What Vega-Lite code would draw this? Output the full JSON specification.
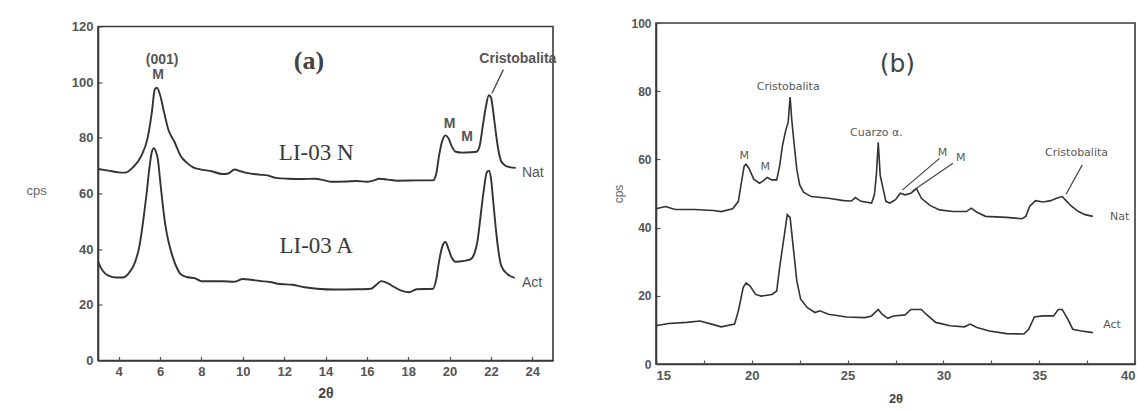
{
  "$schema": "https://vega.github.io/schema/vega-lite/v6.json",
  "autosize": {"type": "pad"},
  "padding": {"left": 25, "top": 16, "right": 0, "bottom": 0},
  "background": "white",
  "bounds": "flush",
  "spacing": 103,
  "center": true,
  "datasets": {
    "a_lines": [
      {"s":"Nat","x":3.0,"y":68.8},{"s":"Nat","x":3.5,"y":68.2},{"s":"Nat","x":4.0,"y":67.6},{"s":"Nat","x":4.3,"y":67.5},{"s":"Nat","x":4.7,"y":69.5},{"s":"Nat","x":5.1,"y":73.6},{"s":"Nat","x":5.4,"y":80},{"s":"Nat","x":5.6,"y":89},{"s":"Nat","x":5.75,"y":97.5},{"s":"Nat","x":5.85,"y":98},{"s":"Nat","x":6.0,"y":95.5},{"s":"Nat","x":6.2,"y":89},{"s":"Nat","x":6.4,"y":83},{"s":"Nat","x":6.7,"y":78.5},{"s":"Nat","x":7.0,"y":73.5},{"s":"Nat","x":7.3,"y":71},{"s":"Nat","x":7.6,"y":69.4},{"s":"Nat","x":8.0,"y":68.6},{"s":"Nat","x":8.5,"y":68},{"s":"Nat","x":9.0,"y":67},{"s":"Nat","x":9.3,"y":67.2},{"s":"Nat","x":9.6,"y":68.6},{"s":"Nat","x":9.9,"y":68},{"s":"Nat","x":10.2,"y":67.4},{"s":"Nat","x":10.8,"y":66.8},{"s":"Nat","x":11.2,"y":66.5},{"s":"Nat","x":11.6,"y":65.6},{"s":"Nat","x":12.2,"y":65.3},{"s":"Nat","x":12.8,"y":65.2},{"s":"Nat","x":13.5,"y":65.3},{"s":"Nat","x":13.9,"y":64.8},{"s":"Nat","x":14.3,"y":64.2},{"s":"Nat","x":15.0,"y":64.3},{"s":"Nat","x":15.5,"y":64.5},{"s":"Nat","x":16.0,"y":64.2},{"s":"Nat","x":16.3,"y":64.6},{"s":"Nat","x":16.6,"y":65.3},{"s":"Nat","x":17.0,"y":65.0},{"s":"Nat","x":17.5,"y":64.6},{"s":"Nat","x":18.5,"y":64.7},{"s":"Nat","x":19.2,"y":64.7},{"s":"Nat","x":19.35,"y":67},{"s":"Nat","x":19.5,"y":74},{"s":"Nat","x":19.65,"y":79},{"s":"Nat","x":19.8,"y":80.9},{"s":"Nat","x":19.95,"y":79.8},{"s":"Nat","x":20.1,"y":77},{"s":"Nat","x":20.3,"y":75},{"s":"Nat","x":20.6,"y":74.7},{"s":"Nat","x":21.0,"y":74.8},{"s":"Nat","x":21.3,"y":75},{"s":"Nat","x":21.45,"y":77},{"s":"Nat","x":21.6,"y":84},{"s":"Nat","x":21.75,"y":91},{"s":"Nat","x":21.9,"y":95.3},{"s":"Nat","x":22.0,"y":94.5},{"s":"Nat","x":22.1,"y":90},{"s":"Nat","x":22.2,"y":84},{"s":"Nat","x":22.35,"y":76},{"s":"Nat","x":22.5,"y":71.5},{"s":"Nat","x":22.7,"y":70},{"s":"Nat","x":22.9,"y":69.5},{"s":"Nat","x":23.2,"y":69.2},
      {"s":"Act","x":3.0,"y":35.5},{"s":"Act","x":3.2,"y":32.5},{"s":"Act","x":3.5,"y":30.5},{"s":"Act","x":3.9,"y":29.8},{"s":"Act","x":4.2,"y":29.8},{"s":"Act","x":4.5,"y":31.5},{"s":"Act","x":4.8,"y":35.5},{"s":"Act","x":5.0,"y":41},{"s":"Act","x":5.2,"y":51},{"s":"Act","x":5.35,"y":60},{"s":"Act","x":5.5,"y":70},{"s":"Act","x":5.6,"y":74.8},{"s":"Act","x":5.7,"y":76.3},{"s":"Act","x":5.8,"y":75},{"s":"Act","x":5.9,"y":72},{"s":"Act","x":6.0,"y":65},{"s":"Act","x":6.1,"y":58},{"s":"Act","x":6.25,"y":49},{"s":"Act","x":6.4,"y":43},{"s":"Act","x":6.6,"y":37.5},{"s":"Act","x":6.8,"y":33.5},{"s":"Act","x":7.0,"y":31},{"s":"Act","x":7.3,"y":30},{"s":"Act","x":7.7,"y":29.5},{"s":"Act","x":8.0,"y":28.5},{"s":"Act","x":9.0,"y":28.5},{"s":"Act","x":9.6,"y":28.3},{"s":"Act","x":10.0,"y":29.3},{"s":"Act","x":10.4,"y":29},{"s":"Act","x":10.8,"y":28.6},{"s":"Act","x":11.3,"y":28.2},{"s":"Act","x":11.8,"y":27.5},{"s":"Act","x":12.4,"y":27.2},{"s":"Act","x":13.0,"y":26.3},{"s":"Act","x":13.6,"y":25.8},{"s":"Act","x":14.4,"y":25.5},{"s":"Act","x":15.5,"y":25.6},{"s":"Act","x":16.2,"y":25.8},{"s":"Act","x":16.5,"y":27.5},{"s":"Act","x":16.7,"y":28.5},{"s":"Act","x":17.0,"y":27.8},{"s":"Act","x":17.3,"y":26.5},{"s":"Act","x":17.7,"y":25},{"s":"Act","x":18.05,"y":24.5},{"s":"Act","x":18.4,"y":25.6},{"s":"Act","x":19.2,"y":25.8},{"s":"Act","x":19.35,"y":29},{"s":"Act","x":19.5,"y":36},{"s":"Act","x":19.65,"y":41},{"s":"Act","x":19.8,"y":42.6},{"s":"Act","x":19.95,"y":40},{"s":"Act","x":20.1,"y":37},{"s":"Act","x":20.3,"y":35.5},{"s":"Act","x":20.7,"y":35.8},{"s":"Act","x":21.0,"y":36.3},{"s":"Act","x":21.2,"y":38.5},{"s":"Act","x":21.35,"y":43},{"s":"Act","x":21.5,"y":52},{"s":"Act","x":21.65,"y":61},{"s":"Act","x":21.8,"y":67.6},{"s":"Act","x":21.9,"y":68.2},{"s":"Act","x":22.0,"y":65.5},{"s":"Act","x":22.1,"y":58},{"s":"Act","x":22.2,"y":50},{"s":"Act","x":22.35,"y":40},{"s":"Act","x":22.5,"y":34},{"s":"Act","x":22.8,"y":31},{"s":"Act","x":23.15,"y":29.7}
    ],
    "a_ann": [
      {"x":6.1,"y":108,"t":"(001)"},{"x":5.9,"y":102.5,"t":"M"},{"x":20.0,"y":85,"t":"M"},{"x":20.85,"y":80.3,"t":"M"},{"x":23.3,"y":108.5,"t":"Cristobalita"}
    ],
    "a_end": [
      {"x":23.5,"y":67.5,"t":"Nat"},{"x":23.5,"y":28,"t":"Act"}
    ],
    "a_title": [{"x":13.2,"y":107.5,"t":"(a)"}],
    "a_samples": [{"x":13.55,"y":74.6,"t":"LI-03 N"},{"x":13.55,"y":41.2,"t":"LI-03 A"}],
    "a_rules": [{"x":22.6,"y":104.5,"x2":22.05,"y2":96}],
    "b_lines": [
      {"s":"Nat","x":15.0,"y":45.5},{"s":"Nat","x":15.5,"y":46.2},{"s":"Nat","x":16.0,"y":45.3},{"s":"Nat","x":17.0,"y":45.3},{"s":"Nat","x":18.0,"y":45},{"s":"Nat","x":18.4,"y":44.7},{"s":"Nat","x":19.0,"y":45.5},{"s":"Nat","x":19.3,"y":47.7},{"s":"Nat","x":19.45,"y":53},{"s":"Nat","x":19.6,"y":58},{"s":"Nat","x":19.7,"y":58.6},{"s":"Nat","x":19.85,"y":57.4},{"s":"Nat","x":20.1,"y":54.2},{"s":"Nat","x":20.4,"y":53},{"s":"Nat","x":20.6,"y":53.7},{"s":"Nat","x":20.8,"y":54.7},{"s":"Nat","x":21.05,"y":54},{"s":"Nat","x":21.3,"y":54},{"s":"Nat","x":21.45,"y":58},{"s":"Nat","x":21.6,"y":64},{"s":"Nat","x":21.75,"y":68},{"s":"Nat","x":21.9,"y":71},{"s":"Nat","x":22.0,"y":78.3},{"s":"Nat","x":22.08,"y":72},{"s":"Nat","x":22.2,"y":65},{"s":"Nat","x":22.35,"y":57},{"s":"Nat","x":22.5,"y":52.5},{"s":"Nat","x":22.7,"y":50.4},{"s":"Nat","x":23.1,"y":49.1},{"s":"Nat","x":24.0,"y":48.6},{"s":"Nat","x":24.8,"y":47.9},{"s":"Nat","x":25.2,"y":47.8},{"s":"Nat","x":25.4,"y":48.8},{"s":"Nat","x":25.7,"y":47.7},{"s":"Nat","x":26.25,"y":47.2},{"s":"Nat","x":26.4,"y":49.6},{"s":"Nat","x":26.5,"y":55.4},{"s":"Nat","x":26.6,"y":65},{"s":"Nat","x":26.7,"y":55.4},{"s":"Nat","x":26.85,"y":51.5},{"s":"Nat","x":27.0,"y":47.7},{"s":"Nat","x":27.2,"y":47.2},{"s":"Nat","x":27.5,"y":48.2},{"s":"Nat","x":27.75,"y":50.1},{"s":"Nat","x":28.0,"y":49.6},{"s":"Nat","x":28.3,"y":50.1},{"s":"Nat","x":28.6,"y":51.4},{"s":"Nat","x":28.85,"y":48.6},{"s":"Nat","x":29.3,"y":46.5},{"s":"Nat","x":29.8,"y":45.2},{"s":"Nat","x":30.5,"y":44.7},{"s":"Nat","x":31.2,"y":44.7},{"s":"Nat","x":31.45,"y":45.7},{"s":"Nat","x":31.75,"y":44.5},{"s":"Nat","x":32.2,"y":43.3},{"s":"Nat","x":33.3,"y":43},{"s":"Nat","x":34.1,"y":42.6},{"s":"Nat","x":34.3,"y":43.3},{"s":"Nat","x":34.5,"y":46.2},{"s":"Nat","x":34.8,"y":47.9},{"s":"Nat","x":35.2,"y":47.5},{"s":"Nat","x":35.6,"y":47.9},{"s":"Nat","x":35.9,"y":48.6},{"s":"Nat","x":36.2,"y":49.1},{"s":"Nat","x":36.4,"y":47.9},{"s":"Nat","x":36.7,"y":46.2},{"s":"Nat","x":37.05,"y":44.7},{"s":"Nat","x":37.4,"y":43.8},{"s":"Nat","x":37.8,"y":43.3},
      {"s":"Act","x":15.0,"y":11.2},{"s":"Act","x":15.65,"y":11.9},{"s":"Act","x":16.6,"y":12.2},{"s":"Act","x":17.3,"y":12.6},{"s":"Act","x":17.9,"y":11.7},{"s":"Act","x":18.4,"y":10.9},{"s":"Act","x":19.1,"y":11.7},{"s":"Act","x":19.3,"y":15.6},{"s":"Act","x":19.55,"y":22.4},{"s":"Act","x":19.7,"y":23.8},{"s":"Act","x":19.9,"y":22.9},{"s":"Act","x":20.2,"y":20.4},{"s":"Act","x":20.5,"y":19.9},{"s":"Act","x":21.05,"y":20.4},{"s":"Act","x":21.3,"y":21.4},{"s":"Act","x":21.45,"y":28.2},{"s":"Act","x":21.7,"y":37.9},{"s":"Act","x":21.85,"y":43.8},{"s":"Act","x":22.0,"y":43},{"s":"Act","x":22.15,"y":35},{"s":"Act","x":22.35,"y":24.3},{"s":"Act","x":22.55,"y":19},{"s":"Act","x":22.9,"y":16.5},{"s":"Act","x":23.3,"y":15.1},{"s":"Act","x":23.55,"y":15.6},{"s":"Act","x":24.0,"y":14.6},{"s":"Act","x":24.95,"y":13.8},{"s":"Act","x":25.9,"y":13.6},{"s":"Act","x":26.25,"y":14.1},{"s":"Act","x":26.6,"y":16},{"s":"Act","x":26.8,"y":14.6},{"s":"Act","x":27.1,"y":13.4},{"s":"Act","x":27.4,"y":14.1},{"s":"Act","x":28.0,"y":14.4},{"s":"Act","x":28.3,"y":16},{"s":"Act","x":28.85,"y":16},{"s":"Act","x":29.1,"y":14.6},{"s":"Act","x":29.6,"y":12.2},{"s":"Act","x":30.35,"y":11.2},{"s":"Act","x":31.1,"y":10.9},{"s":"Act","x":31.4,"y":11.7},{"s":"Act","x":31.75,"y":10.7},{"s":"Act","x":32.4,"y":9.7},{"s":"Act","x":33.3,"y":8.9},{"s":"Act","x":34.2,"y":8.8},{"s":"Act","x":34.45,"y":10.2},{"s":"Act","x":34.75,"y":13.8},{"s":"Act","x":35.2,"y":14.1},{"s":"Act","x":35.75,"y":14.1},{"s":"Act","x":36.0,"y":16},{"s":"Act","x":36.2,"y":16},{"s":"Act","x":36.5,"y":13.1},{"s":"Act","x":36.75,"y":10.2},{"s":"Act","x":37.2,"y":9.7},{"s":"Act","x":37.8,"y":9.2}
    ],
    "b_ann": [
      {"x":21.9,"y":81.2,"t":"Cristobalita"},{"x":26.5,"y":67.8,"t":"Cuarzo α."},{"x":19.6,"y":61,"t":"M"},{"x":20.7,"y":57.7,"t":"M"},{"x":29.95,"y":62,"t":"M"},{"x":30.9,"y":60.3,"t":"M"},{"x":36.95,"y":61.8,"t":"Cristobalita"},{"x":39.2,"y":43,"t":"Nat"},{"x":38.8,"y":11.5,"t":"Act"}
    ],
    "b_title": [{"x":27.6,"y":87.9,"t":"(b)"}],
    "b_rules": [
      {"x":29.8,"y":60.3,"x2":27.85,"y2":51},{"x":30.5,"y":58.9,"x2":28.4,"y2":50.8},{"x":37.25,"y":58.4,"x2":36.4,"y2":49.8}
    ]
  },
  "hconcat": [
    {
      "width": 455,
      "height": 334,
      "layer": [
        {
          "data": {"name": "a_lines"},
          "mark": {"type": "line", "color": "#333333", "strokeWidth": 1.9, "interpolate": "monotone"},
          "encoding": {
            "x": {"field": "x", "type": "quantitative", "scale": {"domain": [3, 25], "nice": false, "zero": false},
                  "axis": {"values": [4,6,8,10,12,14,16,18,20,22,24], "title": "2θ", "titleFontSize": 14, "titleFontWeight": "bold", "titlePadding": 8}},
            "y": {"field": "y", "type": "quantitative", "scale": {"domain": [0, 120], "nice": false},
                  "axis": {"values": [0,20,40,60,80,100,120], "title": "cps", "titleAngle": 0, "titleAlign": "left", "titleBaseline": "middle", "titleX": -72, "titleY": 164, "titleFontWeight": "normal", "titleFontSize": 13, "titleColor": "#666666"}},
            "detail": {"field": "s", "type": "nominal"}
          }
        },
        {
          "data": {"name": "a_rules"},
          "mark": {"type": "rule", "color": "#444444", "strokeWidth": 1.3},
          "encoding": {
            "x": {"field": "x", "type": "quantitative"},
            "y": {"field": "y", "type": "quantitative"},
            "x2": {"field": "x2"},
            "y2": {"field": "y2"}
          }
        },
        {
          "data": {"name": "a_ann"},
          "mark": {"type": "text", "font": "Liberation Sans", "fontSize": 14, "fontWeight": "bold", "color": "#555555", "align": "center", "baseline": "middle"},
          "encoding": {
            "x": {"field": "x", "type": "quantitative"},
            "y": {"field": "y", "type": "quantitative"},
            "text": {"field": "t"}
          }
        },
        {
          "data": {"name": "a_end"},
          "mark": {"type": "text", "font": "Liberation Sans", "fontSize": 14, "color": "#555555", "align": "left", "baseline": "middle"},
          "encoding": {
            "x": {"field": "x", "type": "quantitative"},
            "y": {"field": "y", "type": "quantitative"},
            "text": {"field": "t"}
          }
        },
        {
          "data": {"name": "a_title"},
          "mark": {"type": "text", "font": "Liberation Serif", "fontSize": 26, "fontWeight": "bold", "color": "#444444", "align": "center", "baseline": "middle"},
          "encoding": {
            "x": {"field": "x", "type": "quantitative"},
            "y": {"field": "y", "type": "quantitative"},
            "text": {"field": "t"}
          }
        },
        {
          "data": {"name": "a_samples"},
          "mark": {"type": "text", "font": "Liberation Serif", "fontSize": 23, "color": "#3a3a3a", "align": "center", "baseline": "middle"},
          "encoding": {
            "x": {"field": "x", "type": "quantitative"},
            "y": {"field": "y", "type": "quantitative"},
            "text": {"field": "t"}
          }
        }
      ]
    },
    {
      "width": 479,
      "height": 341,
      "layer": [
        {
          "data": {"name": "b_lines"},
          "mark": {"type": "line", "color": "#333333", "strokeWidth": 1.6},
          "encoding": {
            "x": {"field": "x", "type": "quantitative", "scale": {"domain": [15, 40], "nice": false, "zero": false},
                  "axis": {"values": [15,17.5,20,22.5,25,27.5,30,32.5,35,37.5,40], "labelExpr": "datum.value % 5 === 0 ? datum.label : ''", "title": "2θ", "titleFontSize": 13, "titleFontWeight": "bold", "titlePadding": 10, "labelFontSize": 13}},
            "y": {"field": "y", "type": "quantitative", "scale": {"domain": [0, 100], "nice": false},
                  "axis": {"values": [0,20,40,60,80,100], "title": "cps", "titleFontWeight": "normal", "titleFontSize": 12, "titleColor": "#666666", "titlePadding": 5, "labelFontSize": 12}},
            "detail": {"field": "s", "type": "nominal"}
          }
        },
        {
          "data": {"name": "b_rules"},
          "mark": {"type": "rule", "color": "#444444", "strokeWidth": 1.2},
          "encoding": {
            "x": {"field": "x", "type": "quantitative"},
            "y": {"field": "y", "type": "quantitative"},
            "x2": {"field": "x2"},
            "y2": {"field": "y2"}
          }
        },
        {
          "data": {"name": "b_ann"},
          "mark": {"type": "text", "font": "DejaVu Sans", "fontSize": 11, "color": "#5a5a5a", "align": "center", "baseline": "middle"},
          "encoding": {
            "x": {"field": "x", "type": "quantitative"},
            "y": {"field": "y", "type": "quantitative"},
            "text": {"field": "t"}
          }
        },
        {
          "data": {"name": "b_title"},
          "mark": {"type": "text", "font": "DejaVu Sans", "fontSize": 25, "color": "#444444", "align": "center", "baseline": "middle"},
          "encoding": {
            "x": {"field": "x", "type": "quantitative"},
            "y": {"field": "y", "type": "quantitative"},
            "text": {"field": "t"}
          }
        }
      ]
    }
  ],
  "config": {
    "view": {"stroke": "#3a3a3a", "strokeWidth": 1.6},
    "axis": {
      "grid": false,
      "domainColor": "#3a3a3a",
      "domainWidth": 1.6,
      "tickColor": "#555555",
      "tickSize": -4,
      "tickWidth": 1.2,
      "labelPadding": 9,
      "labelFont": "Liberation Sans",
      "labelFontWeight": "bold",
      "labelColor": "#555555",
      "labelFontSize": 13,
      "titleFont": "Liberation Sans",
      "titleColor": "#444444"
    }
  }
}
